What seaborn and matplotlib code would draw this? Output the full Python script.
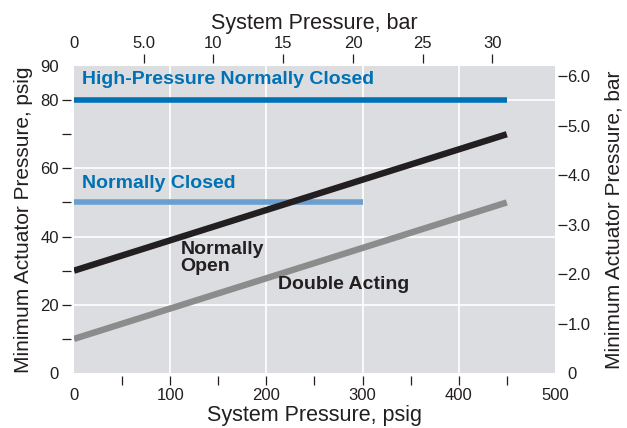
import numpy as np
import pandas as pd
import matplotlib
matplotlib.use("Agg")
import matplotlib.pyplot as plt
import seaborn as sns

# ── data ────────────────────────────────────────────────────────────
hp_nc_x = [0, 450]
hp_nc_y = [80, 80]
nc_x = [0, 300]
nc_y = [50, 50]
no_x = [0, 450]
no_y = [30, 70]
da_x = [0, 450]
da_y = [10, 50]

psig_ticks = [0, 50, 100, 150, 200, 250, 300, 350, 400, 450, 500]
psig_labels = ["0", "", "100", "", "200", "", "300", "", "400", "", "500"]
act_ticks = [0, 10, 20, 30, 40, 50, 60, 70, 80, 90]
act_labels = ["0", "", "20", "", "40", "", "60", "", "80", "90"]
bar_x_ticks = [0, 5, 10, 15, 20, 25, 30]
bar_x_labels = ["0", "5.0", "10", "15", "20", "25", "30"]
bar_y_ticks = [0, 1, 2, 3, 4, 5, 6]
bar_y_labels = ["0", "1.0", "2.0", "3.0", "4.0", "5.0", "6.0"]

PSI_PER_BAR = 14.5038

series = {
    "High-Pressure Normally Closed": (hp_nc_x, hp_nc_y, "#0071b5", 4.0),
    "Normally Closed": (nc_x, nc_y, "#6a9fd0", 4.0),
    "Normally Open": (no_x, no_y, "#231f20", 4.6),
    "Double Acting": (da_x, da_y, "#8c8c8c", 4.6),
}

# ── style ───────────────────────────────────────────────────────────
sns.set_style("darkgrid", {"axes.facecolor": "#dcdde0", "grid.color": "white",
                           "grid.linewidth": 1.2})
plt.rcParams["font.family"] = ["Liberation Sans", "DejaVu Sans"]
ink = "#231f20"
TICK_FS = 12
TITLE_FS = 15.5
NOTE_FS = 14
TICK_LEN = 6.5


def set_ticks(axis, ticks, labels, pad, marks):
    # labels on major ticks (no mark), marks on minor ticks
    axis.remove_overlapping_locs = False
    axis.set_ticks(ticks, labels)
    axis.set_ticks(marks, minor=True)
    axis.set_tick_params(which="major", length=0, labelsize=TICK_FS,
                         labelcolor=ink, pad=pad + TICK_LEN)
    axis.set_tick_params(which="minor", direction="out", length=TICK_LEN,
                         width=0.9, color=ink)


fig = plt.figure(figsize=(6.27, 4.28), dpi=100)
ax = fig.add_axes([0.118, 0.1285, 0.767, 0.7173])

for name, (xs, ys, col, lw) in series.items():
    d = pd.DataFrame({"x": xs, "y": ys})
    sns.lineplot(data=d, x="x", y="y", ax=ax, color=col, linewidth=lw,
                 solid_capstyle="butt")

ax.set_xlim(0, 500)
ax.set_ylim(0, 90)
for s in ax.spines.values():
    s.set_visible(False)
    s.set_position(("outward", 2))
ax.tick_params(which="both", bottom=True, left=True)
set_ticks(ax.xaxis, psig_ticks, psig_labels, 2.5, psig_ticks[1:-1])
set_ticks(ax.yaxis, act_ticks, act_labels, 2.5, act_ticks[1:-1])

# grid only on the labelled steps
ax.grid(False, which="both")
for v in [100, 200, 300, 400]:
    ax.axvline(v, color="white", lw=1.2, zorder=0.5)
for v in [20, 40, 60, 80]:
    ax.axhline(v, color="white", lw=1.2, zorder=0.5)

ax.set_xlabel("System Pressure, psig", fontsize=TITLE_FS, color=ink, labelpad=1)
ax.set_ylabel("Minimum Actuator Pressure, psig", fontsize=TITLE_FS - 0.5,
              color=ink, labelpad=5)

# secondary axes in bar
top = ax.secondary_xaxis("top", functions=(lambda p: p / PSI_PER_BAR,
                                           lambda b: b * PSI_PER_BAR))
set_ticks(top.xaxis, bar_x_ticks, bar_x_labels, 2.5, bar_x_ticks[1:])
top.set_xlabel("System Pressure, bar", fontsize=TITLE_FS, color=ink, labelpad=5)

right = ax.secondary_yaxis("right", functions=(lambda p: p / PSI_PER_BAR,
                                               lambda b: b * PSI_PER_BAR))
set_ticks(right.yaxis, bar_y_ticks, bar_y_labels, 0.5, bar_y_ticks[1:])
right.set_ylabel("Minimum Actuator Pressure, bar", fontsize=TITLE_FS - 0.5,
                 color=ink, labelpad=10)
for sec in (top, right):
    for s in sec.spines.values():
        s.set_visible(False)
        s.set_position(("outward", 2))

# labels on the lines
ax.text(8, 85.9, "High-Pressure Normally Closed", color="#0071b5",
        fontsize=NOTE_FS, fontweight="bold", va="center")
ax.text(8, 55.7, "Normally Closed", color="#0071b5", fontsize=NOTE_FS,
        fontweight="bold", va="center")
ax.text(111, 33.8, "Normally\nOpen", color=ink, fontsize=NOTE_FS,
        fontweight="bold", va="center", linespacing=0.98)
ax.text(212, 25.8, "Double Acting", color=ink, fontsize=NOTE_FS,
        fontweight="bold", va="center")

fig.savefig("out.png", dpi=100)
